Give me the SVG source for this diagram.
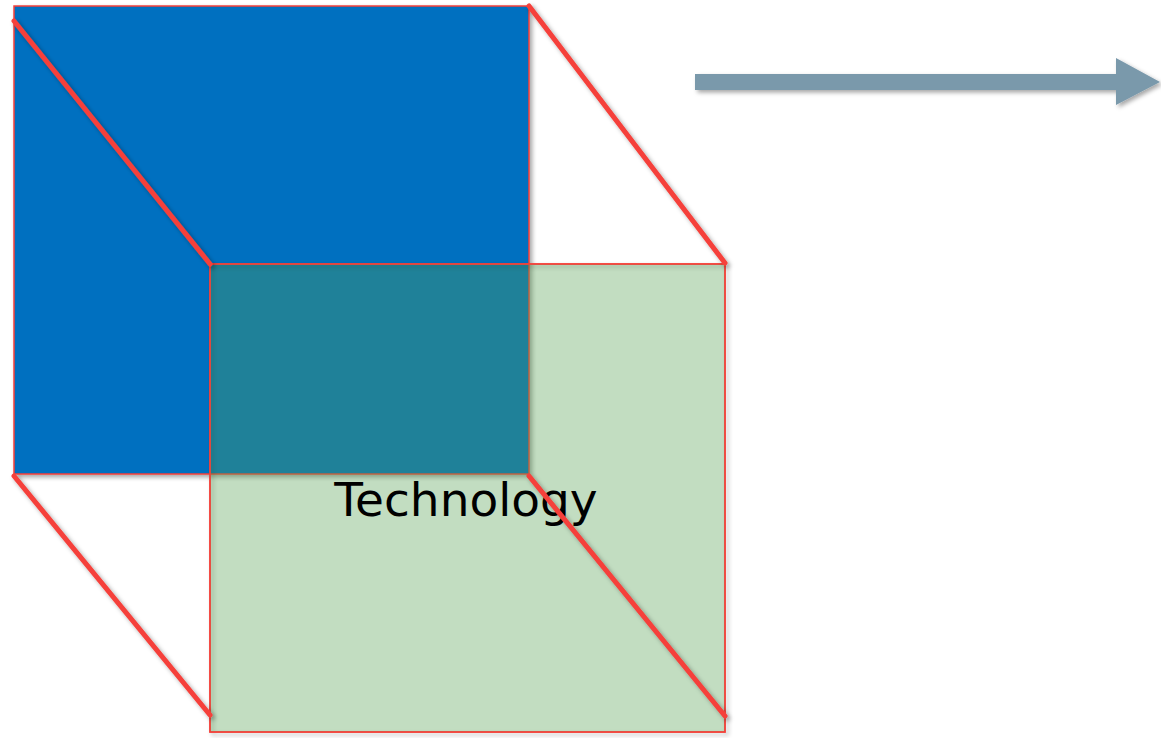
<svg xmlns="http://www.w3.org/2000/svg" width="1161" height="738" viewBox="0 0 1161 738">
<defs>
<filter id="sh" x="-10%" y="-10%" width="130%" height="130%">
<feDropShadow dx="2.5" dy="2.5" stdDeviation="2" flood-color="#000" flood-opacity="0.35"/>
</filter>
<style>
.edge{stroke:#F5403A;stroke-width:5;fill:none;stroke-linecap:round;filter:url(#sh)}
.face{stroke:#F5403A;stroke-width:1.5}
.lbl{font-family:"DejaVu Sans",Verdana,sans-serif;font-size:47px;fill:#000}
</style>
</defs>
<rect width="1161" height="738" fill="#fff"/>
<g id="back-face" filter="url(#sh)">
<rect class="face" x="14" y="6" width="515" height="468" fill="#0070C0"/>
</g>
<g id="front-face">
<rect x="210" y="264" width="515" height="468" fill="none" stroke="#F5403A" stroke-width="1.5" filter="url(#sh)"/>
<rect class="face" x="210" y="264" width="515" height="468" fill="rgb(87,162,83)" fill-opacity="0.36"/>
</g>
<g id="technology">
<text class="lbl" x="466" y="516" text-anchor="middle">Technology</text>
</g>
<g id="connectors">
<line class="edge" x1="14" y1="21" x2="210" y2="264"/>
<line class="edge" x1="529" y1="6" x2="725" y2="263"/>
<line class="edge" x1="14" y1="476" x2="210" y2="715"/>
<line class="edge" x1="529" y1="476" x2="725" y2="716"/>
</g>
<g id="arrow" filter="url(#sh)">
<polygon points="695,74 1116,74 1116,58 1160,82 1116,105 1116,90 695,90" fill="#7A99AB"/>
</g>
</svg>
